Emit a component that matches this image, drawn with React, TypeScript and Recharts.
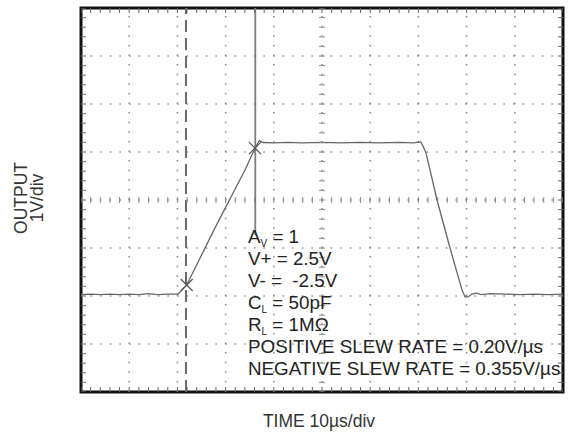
import React from 'react';
import {
  ComposedChart,
  Line,
  XAxis,
  YAxis,
  ReferenceLine,
  ReferenceArea,
  ReferenceDot,
  Scatter,
} from 'recharts';

// ---- data (time in µs, output in V) ----
const timeUs = [0, 2, 4, 6, 8, 10, 12, 14, 16, 18, 19.3, 20.12, 20.54, 21.93, 27.8, 34.02, 36.1, 36.99, 37.76, 40, 43, 46, 50, 54, 58, 62, 66, 69, 70.48, 70.95, 71.58, 73.86, 76.56, 79.05, 79.67, 80.29, 81.12, 81.95, 83, 85, 88, 91, 94, 97, 100];
const outputV = [-1.97, -1.96, -1.97, -1.96, -1.97, -1.96, -1.97, -1.95, -1.97, -1.96, -1.96, -1.96, -1.92, -1.77, -0.58, 0.625, 1.077, 1.235, 1.198, 1.19, 1.2, 1.19, 1.2, 1.19, 1.2, 1.19, 1.2, 1.19, 1.21, 1.125, 0.98, 0.0, -1.0, -1.875, -2.02, -2.02, -1.96, -1.94, -1.97, -1.95, -1.96, -1.97, -1.96, -1.97, -1.96];

const cursorDashedT = 21.78;
const cursorSolidT = 36.16;
const cursorSolidBottomV = -0.73;
const crossT = [21.93, 36.1];
const crossV = [-1.77, 1.08];

const xDomain: [number, number] = [0, 100];
const yDomain: [number, number] = [-4, 4];
const xMajor = [10, 20, 30, 40, 50, 60, 70, 80, 90];
const yMajor = [-3, -2, -1, 0, 1, 2, 3];
const xMinor = Array.from({ length: 51 }, (_, i) => i * 2);
const yMinor = Array.from({ length: 41 }, (_, i) => Math.round((i * 0.2 - 4) * 10) / 10);

const yAxisTitle = ['OUTPUT', '1V/div'];
const xAxisTitle = 'TIME 10µs/div';
const annotation = [
  { main: 'A', sub: 'V', rest: ' = 1' },
  { main: 'V+ = 2.5V' },
  { main: 'V- =  -2.5V' },
  { main: 'C', sub: 'L', rest: ' = 50pF' },
  { main: 'R', sub: 'L', rest: ' = 1MΩ' },
  { main: 'POSITIVE SLEW RATE = 0.20V/µs' },
  { main: 'NEGATIVE SLEW RATE = 0.355V/µs' },
];

const waveData = timeUs.map((t, i) => ({ t, v: outputV[i] }));
const crossData = crossT.map((t, i) => ({ t, v: crossV[i] }));
const hCenterTicks = xMinor.map((t) => ({ t, v: 0 }));
const vCenterTicks = yMinor.map((v) => ({ t: 50, v }));
const hTopTicks = xMinor.map((t) => ({ t, v: yDomain[1] }));
const hBottomTicks = xMinor.map((t) => ({ t, v: yDomain[0] }));
const vLeftTicks = yMinor.map((v) => ({ t: xDomain[0], v }));
const vRightTicks = yMinor.map((v) => ({ t: xDomain[1], v }));

const W = 577;
const H = 432;
const FONT = '"Liberation Sans", Arial, Helvetica, sans-serif';
const DOT = '1.5 8.1';
const GRID_COLOR = '#8a8a8a';
const EDGE_TICK = '#666';

const VTick = (p: any) => (
  <line x1={p.cx} x2={p.cx} y1={p.cy - 3} y2={p.cy + 3} stroke={GRID_COLOR} strokeWidth={1} />
);
const HTick = (p: any) => (
  <line x1={p.cx - 3} x2={p.cx + 3} y1={p.cy} y2={p.cy} stroke={GRID_COLOR} strokeWidth={1} />
);
const TopTick = (p: any) => (
  <line x1={p.cx} x2={p.cx} y1={p.cy} y2={p.cy + 5} stroke={EDGE_TICK} strokeWidth={1} />
);
const BottomTick = (p: any) => (
  <line x1={p.cx} x2={p.cx} y1={p.cy - 5} y2={p.cy} stroke={EDGE_TICK} strokeWidth={1} />
);
const LeftTick = (p: any) => (
  <line x1={p.cx} x2={p.cx + 5} y1={p.cy} y2={p.cy} stroke={EDGE_TICK} strokeWidth={1} />
);
const RightTick = (p: any) => (
  <line x1={p.cx - 5} x2={p.cx} y1={p.cy} y2={p.cy} stroke={EDGE_TICK} strokeWidth={1} />
);
const Cross = (p: any) => (
  <g stroke="#555" strokeWidth={1.2}>
    <line x1={p.cx - 6} y1={p.cy - 6} x2={p.cx + 6} y2={p.cy + 6} />
    <line x1={p.cx - 6} y1={p.cy + 6} x2={p.cx + 6} y2={p.cy - 6} />
  </g>
);

export default function App() {
  return (
    <div style={{ position: 'absolute', left: 0, top: 0, width: W, height: H, background: '#fff' }}>
      <ComposedChart width={W} height={H} margin={{ top: 8, right: 14, bottom: 40, left: 81 }}>
        <XAxis dataKey="t" type="number" domain={xDomain} hide allowDataOverflow />
        <YAxis dataKey="v" type="number" domain={yDomain} hide allowDataOverflow />

        {xMajor.map((x) => (
          <ReferenceLine key={'gx' + x} x={x} stroke={GRID_COLOR} strokeWidth={1.5} strokeDasharray={DOT} />
        ))}
        {yMajor.map((y) => (
          <ReferenceLine key={'gy' + y} y={y} stroke={GRID_COLOR} strokeWidth={1.5} strokeDasharray={DOT} />
        ))}

        <Scatter data={hCenterTicks} dataKey="v" shape={VTick} isAnimationActive={false} />
        <Scatter data={vCenterTicks} dataKey="v" shape={HTick} isAnimationActive={false} />
        <Scatter data={hTopTicks} dataKey="v" shape={TopTick} isAnimationActive={false} />
        <Scatter data={hBottomTicks} dataKey="v" shape={BottomTick} isAnimationActive={false} />
        <Scatter data={vLeftTicks} dataKey="v" shape={LeftTick} isAnimationActive={false} />
        <Scatter data={vRightTicks} dataKey="v" shape={RightTick} isAnimationActive={false} />

        <ReferenceLine x={cursorDashedT} stroke="#6a6a6a" strokeWidth={2} strokeDasharray="12 6" />
        <ReferenceLine
          segment={[
            { x: cursorSolidT, y: yDomain[1] },
            { x: cursorSolidT, y: cursorSolidBottomV },
          ]}
          stroke="#7d7d7d"
          strokeWidth={1.8}
        />

        <Line
          data={waveData}
          dataKey="v"
          type="linear"
          stroke="#666"
          strokeWidth={1.3}
          dot={false}
          activeDot={false}
          isAnimationActive={false}
        />

        {crossData.map((d, i) => (
          <ReferenceDot key={'c' + i} x={d.t} y={d.v} r={6} shape={Cross} />
        ))}

        <ReferenceArea
          x1={xDomain[0]}
          x2={xDomain[1]}
          y1={yDomain[0]}
          y2={yDomain[1]}
          fill="none"
          fillOpacity={0}
          stroke="#111"
          strokeWidth={3}
        />
      </ComposedChart>

      <svg
        width={W}
        height={H}
        style={{ position: 'absolute', left: 0, top: 0, pointerEvents: 'none' }}
        fontFamily={FONT}
      >
        <text transform="translate(27,198) rotate(-90)" textAnchor="middle" fontSize={17.5} fill="#333">
          {yAxisTitle[0]}
        </text>
        <text transform="translate(43,198) rotate(-90)" textAnchor="middle" fontSize={17.5} fill="#333">
          {yAxisTitle[1]}
        </text>
        <text x={319} y={427} textAnchor="middle" fontSize={17.5} fill="#333">
          {xAxisTitle}
        </text>
        {annotation.map((a, i) => (
          <text key={i} x={248} y={243 + i * 22} fontSize={18.8} fill="#222" style={{ whiteSpace: 'pre' }}>
            <tspan>{a.main}</tspan>
            {a.sub ? (
              <tspan fontSize={10} dy={4}>
                {a.sub}
              </tspan>
            ) : null}
            {a.rest ? <tspan dy={a.sub ? -4 : 0}>{a.rest}</tspan> : null}
          </text>
        ))}
      </svg>
    </div>
  );
}
